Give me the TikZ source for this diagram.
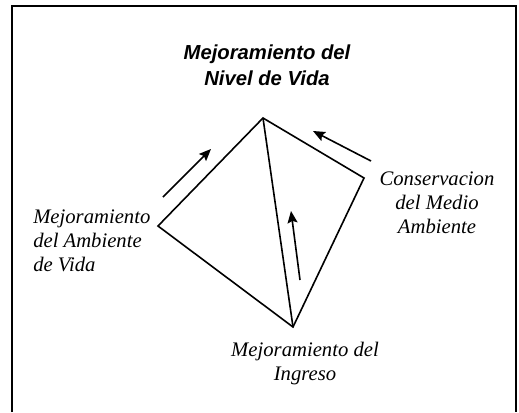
\documentclass[tikz,border=0pt]{standalone}
\usepackage{fontspec}
\setmainfont{Liberation Serif}
\newfontfamily\titlefont{Liberation Sans}
\usetikzlibrary{arrows.meta, positioning}
\tikzset{>={Stealth}}

\begin{document}
\begin{tikzpicture}[
      x=0.75pt, y=-0.75pt,
      edge/.style={line width=1.2pt},
      flow/.style={-{Stealth[length=9pt, width=7.5pt, inset=1.5pt]}, line width=1.2pt},
      lab/.style={inner sep=0pt, font=\fontsize{15.5}{18}\selectfont\itshape},
      ttl/.style={inner sep=0pt, align=center, font=\titlefont\fontsize{15.2}{18.8}\selectfont\bfseries\itshape}
    ]
    \useasboundingbox (0,0) rectangle (519,412);

    % FRAME (open at the bottom)
    \draw[line width=1.5pt] (12,412) -- (12,6) -- (516,6) -- (516,412);

    % TITLE
    \node[ttl, anchor=base] (title) at (267,85) {Mejoramiento del\\Nivel de Vida};

    % CORNERS
    \coordinate (top) at (263,118);
    \coordinate (left) at (158,226);
    \coordinate (bottom) at (293,327);
    \coordinate (right) at (364,178);

    % LABELS
    \node[lab, align=left, anchor=base west] (ambiente) at (33,271) {Mejoramiento\\del Ambiente\\de Vida};
    \node[lab, align=center, anchor=base] (medio) at (437,233) {Conservacion\\del Medio\\Ambiente};
    \node[lab, align=center, anchor=base] (ingreso) at (305,380) {Mejoramiento del\\Ingreso};

    % TETRAHEDRON
    \draw[edge] (top) -- (left) -- (bottom) -- (right) -- cycle;
    \draw[edge] (top) -- (bottom);

    % ARROWS
    \coordinate (a1s) at (163,197);
    \coordinate (a1e) at (211,149);
    \coordinate (a2s) at (371,161);
    \coordinate (a2e) at (313,131);
    \coordinate (a3s) at (300,280);
    \coordinate (a3e) at (291,211);
    \draw[flow] (a1s) -- (a1e);
    \draw[flow] (a2s) -- (a2e);
    \draw[flow] (a3s) -- (a3e);
\end{tikzpicture}
\end{document}
